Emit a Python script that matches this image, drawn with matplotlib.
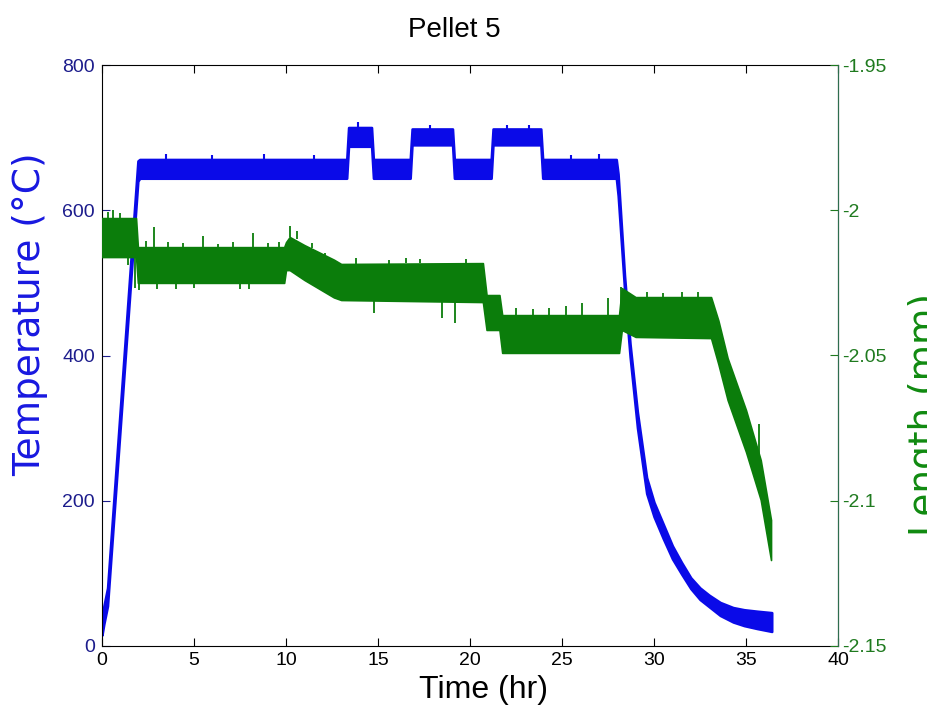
import numpy as np
import matplotlib.pyplot as plt

plt.rcParams['font.family'] = ['Liberation Sans', 'DejaVu Sans']

# temperature band (deg C): time, lower edge, upper edge
temp_time = [0, 0.1, 0.3, 1.95, 2.05, 13.3, 13.4, 14.65, 14.75, 16.75, 16.85, 19.05, 19.15,
             21.15, 21.25, 23.85, 23.95, 27.95, 28.05, 28.4, 28.7, 29.1, 29.6, 30.0, 30.5,
             31.0, 31.5, 32.0, 32.5, 33.0, 33.6, 34.3, 34.9, 35.6, 36.4]
temp_low = [15, 30, 55, 640, 644, 644, 688, 688, 644, 644, 690, 690, 644,
            644, 690, 690, 644, 644, 620, 490, 398, 300, 210, 178, 148,
            120, 99, 79, 64, 54, 42, 33, 28, 24, 20]
temp_high = [35, 55, 80, 668, 670, 670, 714, 714, 670, 670, 712, 712, 670,
             670, 712, 712, 670, 670, 650, 510, 416, 322, 232, 198, 168,
             138, 115, 94, 80, 70, 60, 53, 50, 48, 46]

# length band (mm): time, lower edge, upper edge
len_time = [0, 1.85, 1.95, 9.9, 10.0, 10.2, 11.0, 12.6, 13.0, 20.7, 20.9, 21.6, 21.75,
            28.1, 28.25, 29.0, 33.1, 33.5, 34.0, 35.0, 35.8, 36.36]
len_low = [-2.0161, -2.0161, -2.0250, -2.0250, -2.0206, -2.0206, -2.0240, -2.0300, -2.0309,
           -2.0316, -2.0412, -2.0412, -2.0491, -2.0491, -2.0412, -2.0436, -2.0440, -2.0530,
           -2.0653, -2.0832, -2.0997, -2.1204]
len_high = [-2.0027, -2.0027, -2.0127, -2.0127, -2.0110, -2.0092, -2.0120, -2.0170, -2.0185,
            -2.0182, -2.0292, -2.0292, -2.0361, -2.0361, -2.0268, -2.0299, -2.0299, -2.0380,
            -2.0509, -2.0688, -2.0860, -2.1066]

# single noise spikes on the length trace: time, band edge, tip
spike_time = [0.3, 0.6, 1.0, 1.4, 1.8, 2.0, 2.4, 2.8, 3.6, 4.4, 5.5, 6.3, 7.1, 8.2, 9.0, 9.6,
              10.2, 10.6, 11.4, 12.1, 3.0, 4.0, 5.0, 7.5, 8.0, 13.8, 14.8, 15.6, 16.5, 17.3,
              18.5, 19.2, 19.8, 22.5, 23.4, 24.3, 25.2, 26.1, 27.5, 28.2, 29.6, 30.5, 31.5,
              32.4, 35.7]
spike_base = [-2.0027, -2.0027, -2.0027, -2.0161, -2.0161, -2.0250, -2.0127, -2.0127, -2.0127,
              -2.0127, -2.0127, -2.0127, -2.0127, -2.0127, -2.0127, -2.0127, -2.0092, -2.0100,
              -2.0130, -2.0160, -2.0250, -2.0250, -2.0250, -2.0250, -2.0250, -2.0184, -2.0309,
              -2.0184, -2.0183, -2.0183, -2.0316, -2.0316, -2.0182, -2.0361, -2.0361, -2.0361,
              -2.0361, -2.0361, -2.0361, -2.0361, -2.0299, -2.0299, -2.0299, -2.0299, -2.0860]
spike_tip = [-2.0005, -2.0000, -2.0010, -2.0190, -2.0268, -2.0275, -2.0105, -2.0058, -2.0110,
             -2.0112, -2.0090, -2.0115, -2.0110, -2.0078, -2.0112, -2.0108, -2.0055, -2.0070,
             -2.0112, -2.0148, -2.0272, -2.0270, -2.0268, -2.0270, -2.0272, -2.0165, -2.0354,
             -2.0170, -2.0165, -2.0168, -2.0371, -2.0388, -2.0168, -2.0338, -2.0340, -2.0335,
             -2.0330, -2.0319, -2.0302, -2.0264, -2.0282, -2.0285, -2.0282, -2.0280, -2.0737]

# notches on the temperature plateaus: time, band edge, tip
tnotch_time = [3.5, 6.0, 8.8, 11.5, 13.9, 17.8, 22.0, 23.2, 25.5, 27.0]
tnotch_base = [670, 670, 670, 670, 714, 712, 712, 712, 670, 670]
tnotch_tip = [677, 676, 678, 676, 722, 718, 718, 717, 676, 677]

blue = '#0a0ae8'
green = '#0b7d0b'

fig = plt.figure(figsize=(9.28, 7.17), dpi=100)
ax1 = fig.add_axes([102 / 928, 71 / 717, 736 / 928, 581 / 717])
ax2 = ax1.twinx()

ax1.fill_between(temp_time, temp_low, temp_high, color=blue, lw=1.8)
ax1.vlines(tnotch_time, tnotch_base, tnotch_tip, color=blue, lw=1.5)
ax2.fill_between(len_time, len_low, len_high, color=green, lw=1.2)
ax2.vlines(spike_time, spike_base, spike_tip, color=green, lw=1.3)

ax1.set_xlim(0, 40)
ax1.set_ylim(0, 800)
ax2.set_ylim(-2.15, -1.95)
ax1.set_xticks(range(0, 41, 5))
ax1.set_yticks(range(0, 801, 200))
ax2.set_yticks([-2.15, -2.1, -2.05, -2.0, -1.95])
ax2.set_yticklabels(['-2.15', '-2.1', '-2.05', '-2', '-1.95'])

ax1.tick_params(axis='x', direction='in', length=6, top=True, labelsize=14,
                colors='black', pad=4)
ax1.tick_params(axis='y', direction='in', length=6, labelsize=14,
                colors='#1c1c8c', pad=5)
ax2.tick_params(axis='y', direction='in', length=6, labelsize=14,
                colors='#1f7a1f', pad=3)

for s in ['left', 'top', 'bottom']:
    ax1.spines[s].set_color('black')
ax2.spines['right'].set_color('#2e6e4e')
ax2.spines['left'].set_visible(False)
ax2.spines['top'].set_visible(False)
ax2.spines['bottom'].set_visible(False)

fig.text(454 / 928, 1 - 30 / 717, 'Pellet 5', ha='center', va='center', fontsize=20)
fig.text(484 / 928, 1 - 690 / 717, 'Time (hr)', ha='center', va='center', fontsize=23)
fig.text(30 / 928, 1 - 314 / 717, 'Temperature (°C)', ha='center', va='center',
         rotation=90, fontsize=27, family='DejaVu Sans', color='#1818e0')
fig.text(926 / 928, 1 - 415 / 717, 'Length (mm)', ha='center', va='center',
         rotation=90, fontsize=27, family='DejaVu Sans', color='#108a10')

fig.savefig('out.png', dpi=100)
